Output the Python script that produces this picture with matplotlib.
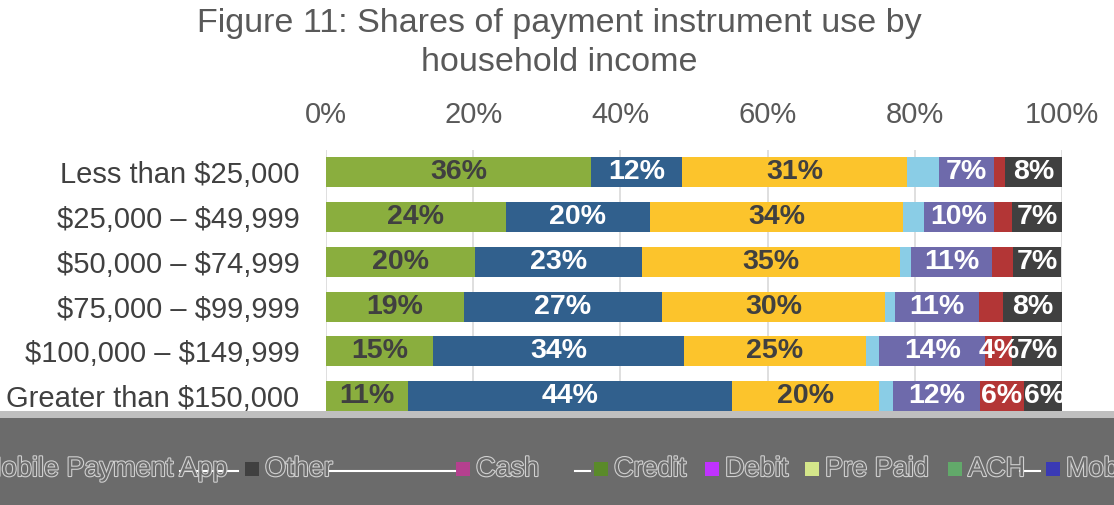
import matplotlib
matplotlib.use("Agg")
import matplotlib.pyplot as plt
import matplotlib.patheffects as pe
from matplotlib.patches import Rectangle
import numpy as np

plt.rcParams['font.family'] = ['Liberation Sans', 'DejaVu Sans']

# ===== DATA =====
categories = ["Less than $25,000", "$25,000 \u2013 $49,999", "$50,000 \u2013 $74,999",
              "$75,000 \u2013 $99,999", "$100,000 \u2013 $149,999", "Greater than $150,000"]

series_names = ["Cash", "Credit", "Debit", "Pre Paid", "ACH", "Mobile Payment App", "Other"]
cash      = [36.0, 24.4, 20.3, 18.7, 14.6, 11.1]
credit    = [12.4, 19.6, 22.7, 27.0, 34.0, 44.0]
debit     = [30.6, 34.4, 35.0, 30.2, 24.8, 20.0]
pre_paid  = [4.3, 2.8, 1.5, 1.4, 1.8, 1.9]
ach       = [7.4, 9.6, 11.0, 11.4, 14.4, 11.9]
mobile    = [1.6, 2.4, 2.8, 3.3, 3.6, 5.9]
other     = [7.7, 7.0, 6.6, 8.0, 6.9, 5.6]

x_ticks = [0, 20, 40, 60, 80, 100]

# ===== STYLE =====
bar_colors = ["#8aae3e", "#31608d", "#fcc42c", "#8acde6", "#6e6aab", "#b33636", "#404040"]
text_colors = ["#404040", "white", "#404040", "white", "white", "white", "white"]
show_labels = [True, True, True, False, True, True, True]

all_series = [cash, credit, debit, pre_paid, ach, mobile, other]

W, H = 1114, 505
fig = plt.figure(figsize=(W / 100, H / 100), dpi=100)
ax = fig.add_axes([326 / W, 1 - 418.5 / H, 736 / W, (418.5 - 150) / H])

y = np.arange(len(categories))
left = np.zeros(len(categories))
for name, vals, col, tcol, show in zip(series_names, all_series, bar_colors, text_colors, show_labels):
    vals = np.array(vals)
    ax.barh(y, vals, left=left, height=0.67, color=col, zorder=2, label=name)
    if show:
        for yi, (l, v) in enumerate(zip(left, vals)):
            if v >= 3.5:
                ax.text(l + v / 2, yi, f"{v:.0f}%", ha="center", va="center",
                        fontsize=20.5, fontweight="bold", color=tcol, zorder=3)
    left += vals

ax.set_xlim(0, 100)
ax.set_ylim(len(categories) - 0.5, -0.5)
ax.set_xticks(x_ticks)
ax.set_xticklabels([f"{t}%" for t in x_ticks])
ax.xaxis.tick_top()
ax.set_yticks(y)
ax.set_yticklabels([c.replace("$", r"\$") for c in categories])
ax.tick_params(axis="x", length=0, pad=15, labelsize=21, labelcolor="#595959")
ax.tick_params(axis="y", length=0, pad=19, labelsize=21, labelcolor="#404040")
ax.grid(axis="x", color="#d9d9d9", linewidth=1.2, zorder=0)
ax.set_axisbelow(True)
for s in ax.spines.values():
    s.set_visible(False)

fig.text(559 / W, 1 - 43 / H, "Figure 11: Shares of payment instrument use by\nhousehold income",
         ha="center", va="center", fontsize=24.5, color="#595959", linespacing=1.32)

# garbled legend band at the bottom
fig.add_artist(Rectangle((0, 0), 1, 87 / H, transform=fig.transFigure,
                         facecolor="#6b6b6b", edgecolor="none", zorder=5))
fig.add_artist(Rectangle((0, 87 / H), 1, 7 / H, transform=fig.transFigure,
                         facecolor="#bfbfbf", edgecolor="none", zorder=5))

leg_y = 1 - 469 / H
outline = [pe.withStroke(linewidth=1.6, foreground="#d0d0d0")]
legend_items = [
    (None, "Mobile Payment App", 228, "right"),
    ("#404040", "Other", 265, "left"),
    ("#b5408f", "Cash", 476, "left"),
    ("#5a8a2a", "Credit", 614, "left"),
    ("#c032ff", "Debit", 725, "left"),
    ("#d4e68a", "Pre Paid", 825, "left"),
    ("#62a96a", "ACH", 968, "left"),
    ("#3a3ab5", "Mobile Payment App", 1066, "left"),
]
for col, txt, xp, ha in legend_items:
    if col is not None:
        fig.add_artist(Rectangle(((xp - 20) / W, leg_y - 7 / H), 14 / W, 14 / H,
                                 transform=fig.transFigure, facecolor=col,
                                 edgecolor="none", zorder=6))
    fig.text(xp / W, leg_y, txt, ha=ha, va="center", fontsize=19.5, color="#6b6b6b",
             path_effects=outline, zorder=7)

# stray white connector lines
for x0, x1 in [(330, 455), (180, 238), (575, 590), (1020, 1040)]:
    fig.add_artist(plt.Line2D([x0 / W, x1 / W], [leg_y - 2 / H, leg_y - 2 / H],
                              transform=fig.transFigure, color="white", linewidth=1.5, zorder=6))

fig.savefig("out.png", dpi=100)
